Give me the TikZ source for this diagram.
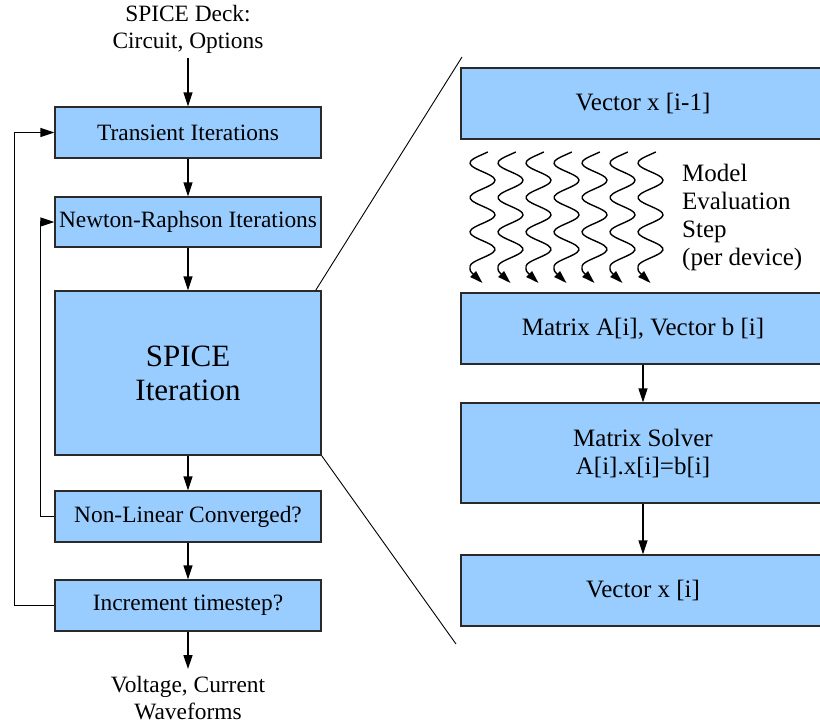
\documentclass[tikz,border=0pt]{standalone}
\usepackage{fontspec}
\setmainfont{Liberation Serif}
\usetikzlibrary{arrows.meta,calc}
\definecolor{boxblue}{HTML}{99CCFF}
\definecolor{edge}{HTML}{2A2A2A}

\begin{document}
\begin{tikzpicture}[x=1pt,y=-1pt,
  box/.style={draw=edge, line width=1.3pt, fill=boxblue, inner sep=0pt, align=center},
  lbox/.style={box, minimum width=266pt, minimum height=51pt, font=\fontsize{23.4}{27}\selectfont},
  rbox/.style={box, minimum width=364pt, minimum height=71pt, font=\fontsize{25}{28}\selectfont},
  plain/.style={inner sep=0pt, align=center, font=\fontsize{23.4}{27}\selectfont},
  flow/.style={line width=1.4pt, -{Triangle[length=14pt,width=9pt]}},
  zoomline/.style={line width=0.9pt},
  waveline/.style={line width=1.4pt},
  wavetip/.style={line width=1.4pt, -{Triangle[length=13pt,width=8pt]}}]
\useasboundingbox (0,0) rectangle (820,724);

% main simulation loop
\node[plain] (deck) at (188,29) {SPICE Deck:\\Circuit, Options};
\node[lbox] (trans) at (188,132.5) {Transient Iterations};
\node[lbox, minimum height=50pt] (newton) at (188,222) {Newton-Raphson Iterations};
\node[lbox, minimum height=164pt, font=\fontsize{31}{34}\selectfont] (spice) at (188,373) {SPICE\\Iteration};
\node[lbox] (conv) at (188,516.5) {Non-Linear Converged?};
\node[lbox] (incr) at (188,605.5) {Increment timestep?};
\node[plain] (out) at (188,698) {Voltage, Current\\Waveforms};

\draw[flow, shorten <=5pt] (deck.south) -- (trans.north);
\draw[flow] (trans) -- (newton);
\draw[flow] (newton) -- (spice);
\draw[flow] (spice) -- (conv);
\draw[flow] (conv) -- (incr);
\draw[flow, shorten >=7pt] (incr.south) -- (out.north);

% feedback loops
\draw[flow] (incr.west) -- ++(-40,0) |- (trans.west);
\draw[flow] (conv.west) -- ++(-14,0) |- (newton.west);

% detail of one SPICE iteration
\node[rbox] (xprev) at (643,103.5) {Vector x [i-1]};
\node[rbox] (mat) at (643,328.5) {Matrix A[i], Vector b [i]};
\node[rbox, minimum height=100pt] (solve) at (643,453) {Matrix Solver\\A[i].x[i]=b[i]};
\node[rbox] (xnew) at (643,590.5) {Vector x [i]};

\draw[flow] (mat) -- (solve);
\draw[flow] (solve) -- (xnew);

% per-device model evaluation (wavelength 34.5, i.e. 10.43478 deg per unit)
\foreach \i in {0,...,6}{
  \pgfmathsetmacro\cx{482.5+28*\i}
  \draw[waveline] plot[smooth, domain=152:266.5, samples=50, variable=\t]
    ({\cx-12.5*sin((\t-154.4)*10.43478)},\t);
  \draw[wavetip] (\cx-12.5,266.5) .. controls (\cx-12.5,271) .. (\cx,283);
}
\node[anchor=west, align=left, inner sep=0pt, font=\fontsize{25}{28}\selectfont] (mes) at (682,217)
  {Model\\Evaluation\\Step\\(per device)};

% zoom lines
\coordinate (zt) at (462,57);
\coordinate (zb) at (456,644);
\draw[zoomline] ($(spice.north east)+(-6,0)$) -- (zt);
\draw[zoomline] (spice.south east) -- (zb);
\end{tikzpicture}
\end{document}
